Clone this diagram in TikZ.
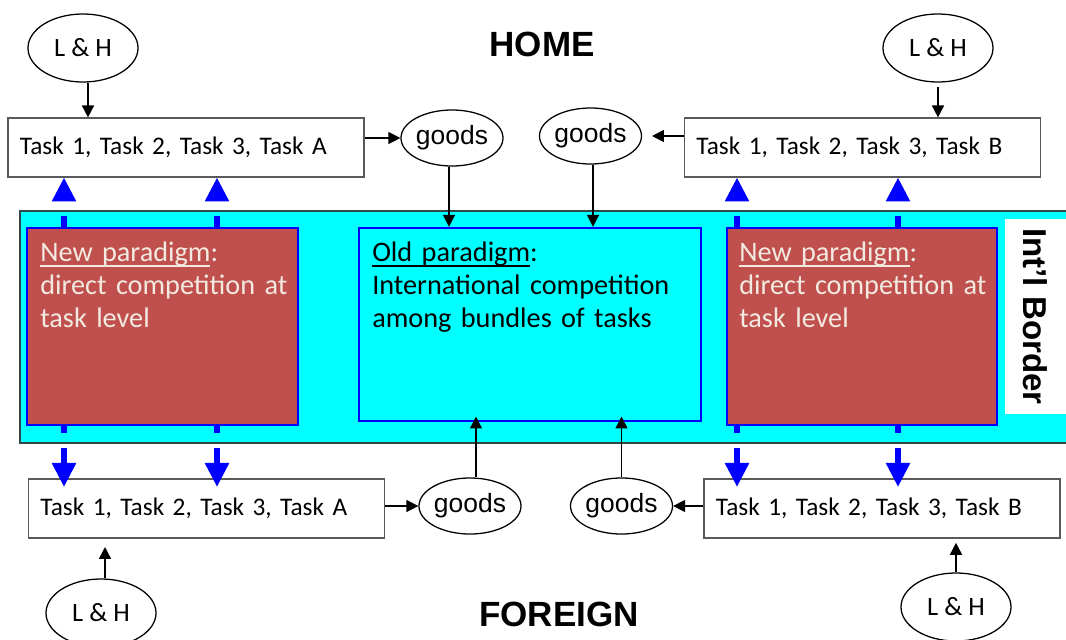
\documentclass[tikz,border=0pt]{standalone}
\usepackage{fontspec}
\setmainfont{Carlito}[WordSpace=0.75]
\newfontfamily\lhfont{Carlito}
\newfontfamily\arialfont{Liberation Sans}
\usetikzlibrary{arrows.meta,shapes.geometric,calc}
\definecolor{boxred}{HTML}{C0504D}
\definecolor{cream}{RGB}{242,234,224}
\definecolor{bandedge}{RGB}{50,70,70}
\definecolor{pblue}{RGB}{0,0,255}
\definecolor{bandcyan}{RGB}{0,255,255}
\definecolor{taskedge}{RGB}{90,90,90}
\newcommand\myul[1]{\setbox0\hbox{#1}\rlap{\rule[-0.2em]{\wd0}{0.07em}}\box0}
\tikzset{
  x=0.025cm, y=-0.025cm,
  task/.style={draw=taskedge, line width=0.8pt, rectangle, minimum height=1.475cm,
    inner xsep=0.3cm, text width=8.3cm, align=left, fill=white,
    font=\fontsize{18}{22}\selectfont},
  lh/.style={ellipse, draw, line width=0.9pt, fill=white, minimum width=2.75cm,
    minimum height=1.7cm, inner sep=0pt, font=\lhfont\fontsize{18.8}{22}\selectfont},
  goods/.style={ellipse, draw, line width=0.9pt, fill=white, minimum width=2.55cm,
    minimum height=1.4cm, inner sep=0pt, font=\arialfont\fontsize{18.8}{22}\selectfont},
  redbox/.style={rectangle, draw=pblue, fill=boxred, line width=1.8pt},
  oldbox/.style={rectangle, draw=pblue, fill=bandcyan, line width=1.6pt},
  ptext/.style={inner sep=0pt, align=left, text width=7.8cm, anchor=base west,
    font=\fontsize{20.1}{23.5}\selectfont},
  blk/.style={draw=black, line width=1.1pt, -{Triangle[width=8.5pt,length=8.5pt]}},
  bluearr/.style={draw=pblue, line width=3.6pt, -{Triangle[width=16.5pt,length=17pt]}},
  bluestub/.style={draw=pblue, line width=3.8pt},
  title/.style={inner sep=0pt, font=\arialfont\bfseries\fontsize{24.9}{30}\selectfont}
}
\begin{document}
\begin{tikzpicture}
\useasboundingbox (0,0) rectangle (1066,639);
% band
\path[fill=bandcyan, draw=bandedge, line width=1.1pt] (20,211) rectangle (1080,443);
% stubs of blue lines
\foreach \xx in {64,217,737,898} {
  \draw[bluestub] (\xx,216) -- (\xx,232);
  \draw[bluestub] (\xx,420) -- (\xx,433);
}
% paradigm boxes
\node[redbox, minimum width=6.775cm, minimum height=4.925cm] (nl) at (162.5,326.5) {};
\node[oldbox, minimum width=8.55cm, minimum height=4.825cm] (old) at (530,324.5) {};
\node[redbox, minimum width=6.75cm, minimum height=4.925cm] (nr) at (862,326.5) {};
\node[ptext, text=cream] (nlt) at (40,261) {\myul{New paradigm}:\\direct competition at\\task level};
\node[ptext, text=black] (oldt) at (372,261) {\myul{Old paradigm}:\\International competition\\among bundles of tasks};
\node[ptext, text=cream] (nrt) at (739,261) {\myul{New paradigm}:\\direct competition at\\task level};
% border label
\node[fill=white, rotate=-90, minimum width=4.875cm, minimum height=1.525cm, inner sep=0pt,
  font=\arialfont\bfseries\fontsize{23.5}{28}\selectfont] (ib) at (1035.5,316.5) {Int’l Border};
% titles
\node[title] (home) at (542,44.5) {HOME};
\node[title] (foreign) at (559,614) {FOREIGN};
% task boxes
\node[task] (tl) at (186,147.5) {Task 1, Task 2, Task 3, Task A};
\node[task] (tr) at (862.5,147.5) {Task 1, Task 2, Task 3, Task B};
\node[task] (bl) at (206.5,508.5) {Task 1, Task 2, Task 3, Task A};
\node[task] (br) at (882,508.5) {Task 1, Task 2, Task 3, Task B};
% L & H
\node[lh] (lh1) at (83,48) {L \& H};
\node[lh] (lh2) at (938,48) {L \& H};
\node[lh] (lh3) at (101,613) {L \& H};
\node[lh] (lh4) at (956,607) {L \& H};
% goods
\node[goods] (g1) at (452,138) {goods};
\node[goods] (g2) at (590.5,136) {goods};
\node[goods] (g3) at (470,506) {goods};
\node[goods] (g4) at (621.5,506) {goods};
% black arrows top
\coordinate (s1) at ($(lh1.south)+(5,0)$);
\draw[blk] (s1) -- (s1 |- tl.north);
\draw[blk, shorten <=3pt] (lh2.south) -- (lh2.south |- tr.north);
\draw[blk] (tl.east |- g1.west) -- (g1.west);
\draw[blk, shorten >=7pt] (tr.west |- g2.east) -- (g2.east);
\coordinate (d1) at ($(g1.south)+(-3,0)$);
\draw[blk] (d1) -- (d1 |- old.north);
\coordinate (d2) at ($(g2.south)+(2.5,0)$);
\draw[blk] (d2) -- (d2 |- old.north);
% black arrows bottom
\draw[blk] (bl.east |- g3.west) -- (g3.west);
\draw[blk] (br.west |- g4.east) -- (g4.east);
\coordinate (u3) at ($(g3.north)+(6,0)$);
\draw[blk, shorten >=-4pt] (u3) -- (u3 |- old.south);
\draw[blk, shorten >=-4pt] (g4.north) -- (g4.north |- old.south);
\coordinate (u1) at ($(lh3.north)+(4,0)$);
\draw[blk, shorten >=6pt] (u1) -- (u1 |- bl.south);
\draw[blk, shorten >=3pt] (lh4.north) -- (lh4.north |- br.south);
% blue arrows up
\coordinate (bt1) at (64,201);
\coordinate (bt2) at (217,201);
\coordinate (bt3) at (737,201);
\coordinate (bt4) at (898,201);
\draw[bluearr] (bt1) -- (bt1 |- tl.south);
\draw[bluearr] (bt2) -- (bt2 |- tl.south);
\draw[bluearr] (bt3) -- (bt3 |- tr.south);
\draw[bluearr] (bt4) -- (bt4 |- tr.south);
% blue arrows down
\coordinate (bb1) at (64,448);
\coordinate (bb2) at (217,448);
\coordinate (bb3) at (737,448);
\coordinate (bb4) at (898,448);
\draw[bluearr, shorten >=-6pt] (bb1) -- (bb1 |- bl.north);
\draw[bluearr, shorten >=-6pt] (bb2) -- (bb2 |- bl.north);
\draw[bluearr, shorten >=-6pt] (bb3) -- (bb3 |- br.north);
\draw[bluearr, shorten >=-6pt] (bb4) -- (bb4 |- br.north);
\end{tikzpicture}
\end{document}
